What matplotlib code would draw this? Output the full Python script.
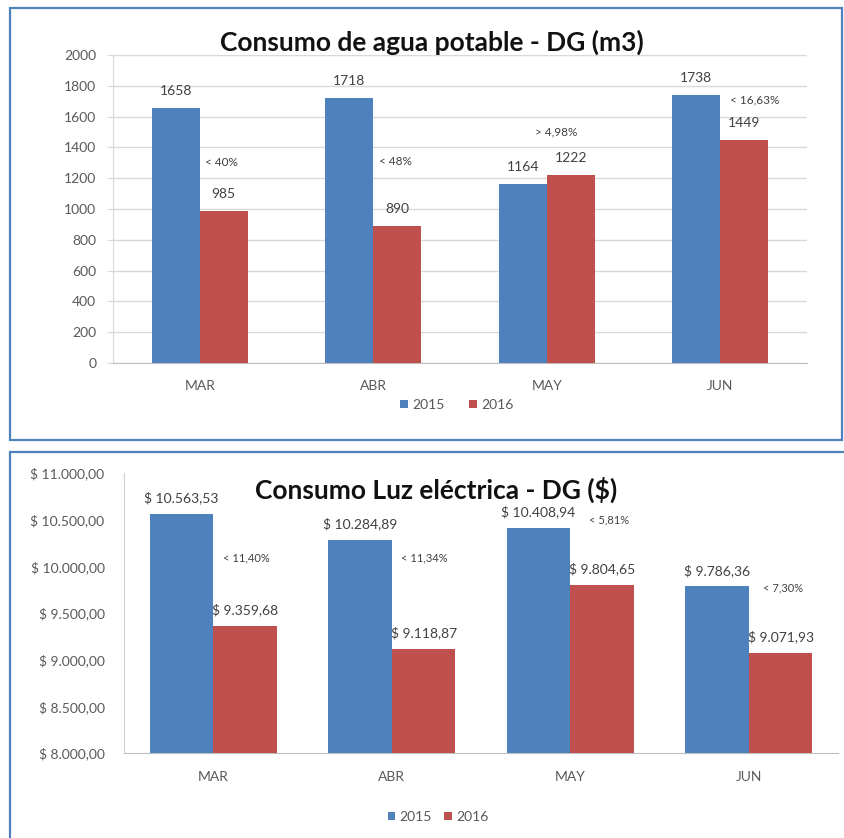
import matplotlib
matplotlib.use("Agg")
import matplotlib.pyplot as plt
import matplotlib.patches as patches
from matplotlib.ticker import FuncFormatter

plt.rcParams['font.family'] = ['Lato', 'DejaVu Sans']

# data
months = ['MAR', 'ABR', 'MAY', 'JUN']
years = ['2015', '2016']
agua_2015 = [1658, 1718, 1164, 1738]
agua_2016 = [985, 890, 1222, 1449]
agua_pct = ['< 40%', '< 48%', '> 4,98%', '< 16,63%']
luz_2015 = [10563.53, 10284.89, 10408.94, 9786.36]
luz_2016 = [9359.68, 9118.87, 9804.65, 9071.93]
luz_pct = ['< 11,40%', '< 11,34%', '< 5,81%', '< 7,30%']

# layout (pixels) for the percent notes: offset above the 2016 bar top
agua_pct_off = [(-2, 49), (-2, 64), (-15, 43), (10, 40)]
luz_pct_off = [(1, 68), (1, 91), (7, 65), (2, 65)]

BLUE = '#4f81bd'
RED = '#c0504d'
GRAY = '#595959'
W, H = 844, 838


def box(x0, y0, x1, y1):
    return [x0 / W, 1 - y1 / H, (x1 - x0) / W, (y1 - y0) / H]


def money(v, pos=None):
    s = f"{v:,.2f}".replace(',', 'X').replace('.', ',').replace('X', '.')
    return f"$ {s}"


fig = plt.figure(figsize=(W / 100, H / 100), dpi=100)

# panel borders
fig.add_artist(patches.Rectangle((10 / W, 1 - 440 / H), 832 / W, 432 / H,
                                 transform=fig.transFigure, fill=False,
                                 ec=BLUE, lw=1.6))
fig.add_artist(patches.Rectangle((10 / W, 1 - 900 / H), 900 / W, 448 / H,
                                 transform=fig.transFigure, fill=False,
                                 ec=BLUE, lw=1.6))

# ---- chart 1: agua ----
ax1 = fig.add_axes(box(113, 55, 807, 363))
x = range(len(months))
bw = 0.276
b1 = ax1.bar([i - bw / 2 for i in x], agua_2015, bw, color=BLUE, label=years[0], zorder=3)
b2 = ax1.bar([i + bw / 2 for i in x], agua_2016, bw, color=RED, label=years[1], zorder=3)
ax1.set_ylim(0, 2000)
ax1.set_xlim(-0.5, len(months) - 0.5)
ax1.set_yticks(range(0, 2001, 200))
ax1.set_xticks(list(x))
ax1.set_xticklabels(months)
ax1.grid(axis='y', color='#d9d9d9', lw=1, zorder=0)
for s in ['top', 'right']:
    ax1.spines[s].set_visible(False)
ax1.spines['left'].set_color('#d9d9d9')
ax1.spines['bottom'].set_color('#bfbfbf')
ax1.tick_params(axis='y', length=4, color='#d9d9d9', pad=8, labelsize=10, labelcolor=GRAY)
ax1.tick_params(axis='x', length=0, pad=12, labelsize=10, labelcolor=GRAY)

for bars, vals in ((b1, agua_2015), (b2, agua_2016)):
    for r, v in zip(bars, vals):
        ax1.annotate(str(v), (r.get_x() + r.get_width() / 2, v), xytext=(0, 17),
                     textcoords='offset pixels', ha='center', va='center',
                     fontsize=10, color='#404040')
for r, txt, (dx, dy) in zip(b2, agua_pct, agua_pct_off):
    ax1.annotate(txt, (r.get_x() + r.get_width() / 2, r.get_height()), xytext=(dx, dy),
                 textcoords='offset pixels', ha='center', va='center',
                 fontsize=8.5, color='#404040')

fig.text(432 / W, 1 - 42 / H, 'Consumo de agua potable - DG (m3)', ha='center',
         va='center', fontsize=19, fontweight='bold', color='#111111')
fig.legend(handles=[b1, b2], loc='center', bbox_to_anchor=(457 / W, 1 - 405 / H),
           ncol=2, frameon=False, handlelength=0.55, handleheight=0.55,
           handletextpad=0.3, columnspacing=1.8, fontsize=10, labelcolor=GRAY)

# ---- chart 2: luz ----
ax2 = fig.add_axes(box(124, 473, 838, 753))
bw2 = 0.357
c1 = ax2.bar([i - bw2 / 2 for i in x], luz_2015, bw2, color=BLUE, label=years[0], zorder=3)
c2 = ax2.bar([i + bw2 / 2 for i in x], luz_2016, bw2, color=RED, label=years[1], zorder=3)
ax2.set_ylim(8000, 11000)
ax2.set_xlim(-0.5, len(months) - 0.5)
ax2.set_yticks(range(8000, 11001, 500))
ax2.yaxis.set_major_formatter(FuncFormatter(money))
ax2.set_xticks(list(x))
ax2.set_xticklabels(months)
for s in ['top', 'right']:
    ax2.spines[s].set_visible(False)
ax2.spines['left'].set_color('#d0d0d0')
ax2.spines['bottom'].set_color('#bfbfbf')
ax2.tick_params(axis='y', length=0, pad=14, labelsize=10, labelcolor=GRAY)
ax2.tick_params(axis='x', length=0, pad=13, labelsize=10, labelcolor=GRAY)

for bars, vals in ((c1, luz_2015), (c2, luz_2016)):
    for r, v in zip(bars, vals):
        ax2.annotate(money(v), (r.get_x() + r.get_width() / 2, v), xytext=(0, 16),
                     textcoords='offset pixels', ha='center', va='center',
                     fontsize=10, color='#404040')
for r, txt, (dx, dy) in zip(c2, luz_pct, luz_pct_off):
    ax2.annotate(txt, (r.get_x() + r.get_width() / 2, r.get_height()), xytext=(dx, dy),
                 textcoords='offset pixels', ha='center', va='center',
                 fontsize=8, color='#404040')

fig.text(436 / W, 1 - 490 / H, 'Consumo Luz eléctrica - DG ($)', ha='center',
         va='center', fontsize=19, fontweight='bold', color='#111111')
fig.legend(handles=[c1, c2], loc='center', bbox_to_anchor=(438 / W, 1 - 817 / H),
           ncol=2, frameon=False, handlelength=0.55, handleheight=0.55,
           handletextpad=0.3, columnspacing=0.9, fontsize=10, labelcolor=GRAY)

fig.savefig('out.png', dpi=100)
